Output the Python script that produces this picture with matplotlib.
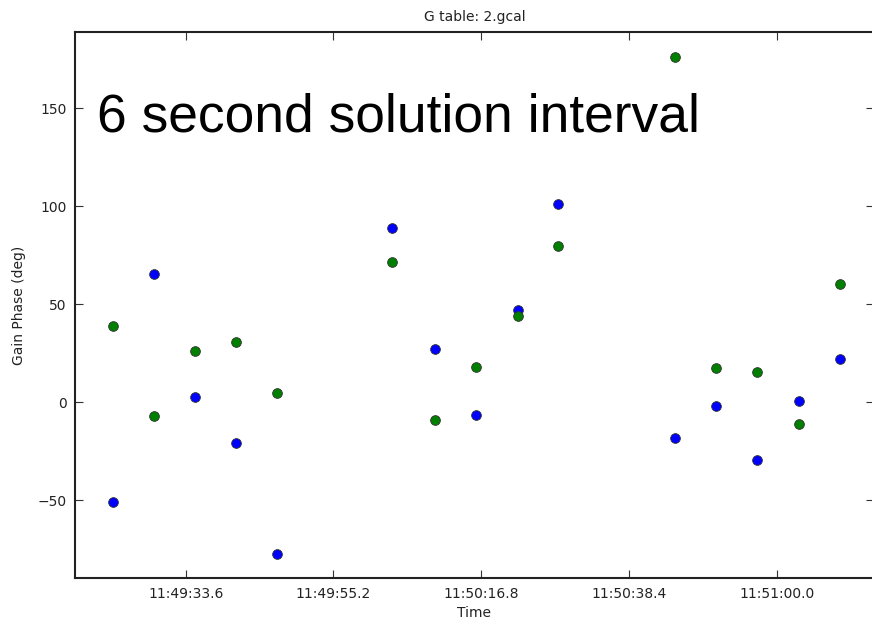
import matplotlib
matplotlib.use("Agg")
import matplotlib.pyplot as plt
from matplotlib.ticker import FixedLocator, FuncFormatter

##########
#  Data  #
##########

# solution times (6 s interval)
times = ["11:49:23.0", "11:49:29.0", "11:49:34.9", "11:49:41.0", "11:49:47.0",
         "11:50:03.8", "11:50:10.0", "11:50:16.1", "11:50:22.2", "11:50:28.1",
         "11:50:45.1", "11:50:51.2", "11:50:57.1", "11:51:03.2", "11:51:09.3"]

# gain phase (deg) per polarisation
phase_blue = [-50.9, 65.5, 2.6, -20.8, -77.4,
              88.8, 27.0, -6.6, 46.9, 101.2,
              -18.2, -1.9, -29.3, 0.5, 21.9]
phase_green = [39.1, -7.1, 26.3, 30.8, 4.9,
               71.4, -9.0, 17.9, 44.2, 79.7,
               176.2, 17.3, 15.3, -11.1, 60.4]

xticks = ["11:49:33.6", "11:49:55.2", "11:50:16.8", "11:50:38.4", "11:51:00.0"]
yticks = [-50, 0, 50, 100, 150]


def to_sec(s):
    h, m, sec = s.split(":")
    return int(h) * 3600 + int(m) * 60 + float(sec)


def fmt_time(v, pos=None):
    h = int(v // 3600)
    m = int((v - h * 3600) // 60)
    s = v - h * 3600 - m * 60
    return "%02d:%02d:%04.1f" % (h, m, s)


t = [to_sec(s) for s in times]

##########
#  Plot  #
##########

fig = plt.figure(figsize=(8.72, 6.19), dpi=100)
ax = fig.add_axes([0.086, 0.0658, 0.916, 0.8825])

ax.plot(t, phase_blue, 'o', color='#0000ff', mec='#333333', mew=0.6, ms=7)
ax.plot(t, phase_green, 'o', color='#007f00', mec='#333333', mew=0.6, ms=7)

ax.set_xlim(to_sec("11:49:17.4"), to_sec("11:51:14.2"))
ax.set_ylim(-89.8, 188.9)

ax.xaxis.set_major_locator(FixedLocator([to_sec(s) for s in xticks]))
ax.xaxis.set_major_formatter(FuncFormatter(fmt_time))
ax.set_yticks(yticks)
ax.set_yticklabels(["\u221250" if v == -50 else str(v) for v in yticks])

ax.tick_params(direction='in', length=5.5, width=0.8, color='#333333',
               labelsize=10, labelcolor='#222222', top=True, right=True, pad=6)
for sp in ax.spines.values():
    sp.set_linewidth(1.5)
    sp.set_color('#222222')

ax.set_title("G table: 2.gcal", fontsize=10, color='#222222', pad=8)
ax.set_xlabel("Time", fontsize=10, color='#222222', labelpad=4)
ax.set_ylabel("Gain Phase (deg)", fontsize=10, color='#222222', labelpad=8)

fig.text(97 / 872, 1 - 131 / 619, "6 second solution interval",
         fontsize=38.4, family='Liberation Sans', color='black', va='baseline')

fig.savefig("out.png", dpi=100)
